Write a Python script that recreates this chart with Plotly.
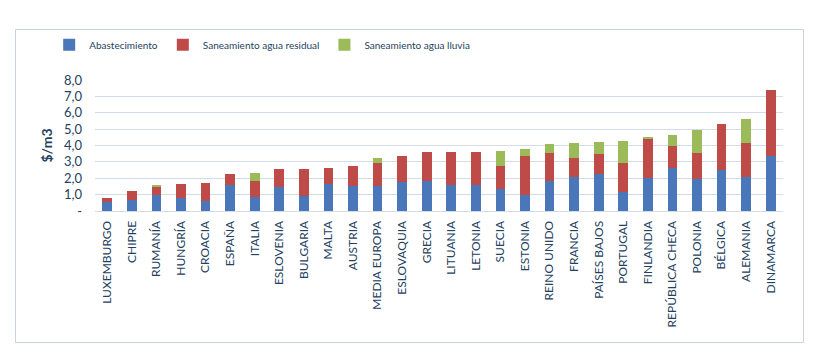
import plotly.graph_objects as go

countries = ["LUXEMBURGO", "CHIPRE", "RUMANÍA", "HUNGRÍA", "CROACIA", "ESPAÑA", "ITALIA",
             "ESLOVENIA", "BULGARIA", "MALTA", "AUSTRIA", "MEDIA EUROPA", "ESLOVAQUIA",
             "GRECIA", "LITUANIA", "LETONIA", "SUECIA", "ESTONIA", "REINO UNIDO", "FRANCIA",
             "PAÍSES BAJOS", "PORTUGAL", "FINLANDIA", "REPÚBLICA CHECA", "POLONIA",
             "BÉLGICA", "ALEMANIA", "DINAMARCA"]

abastecimiento = [0.57, 0.67, 1.00, 0.80, 0.61, 1.59, 0.88, 1.47, 0.94, 1.65, 1.53, 1.53,
                  1.78, 1.84, 1.59, 1.59, 1.35, 0.98, 1.84, 2.08, 2.27, 1.16, 2.02, 2.63,
                  1.96, 2.51, 2.08, 3.37]
residual = [0.24, 0.55, 0.45, 0.85, 1.10, 0.68, 0.96, 1.10, 1.63, 0.98, 1.23, 1.41,
            1.59, 1.77, 2.02, 2.02, 1.41, 2.39, 1.71, 1.17, 1.22, 1.78, 2.39, 1.35,
            1.59, 2.82, 2.08, 4.04]
lluvia = [0, 0, 0.14, 0, 0, 0, 0.49, 0, 0, 0, 0, 0.31,
          0, 0, 0, 0, 0.91, 0.43, 0.55, 0.91, 0.73, 1.35, 0.12, 0.67,
          1.41, 0, 1.47, 0]

tick_vals = [0, 1, 2, 3, 4, 5, 6, 7, 8]
tick_text = ["-", "1,0", "2,0", "3,0", "4,0", "5,0", "6,0", "7,0", "8,0"]

TXT = "#243F60"
FONT = "Lato"

fig = go.Figure()
fig.add_trace(go.Bar(x=countries, y=abastecimiento, name="Abastecimiento",
                     marker=dict(color="#4A76BA", line=dict(width=0))))
fig.add_trace(go.Bar(x=countries, y=residual, name="Saneamiento agua residual",
                     marker=dict(color="#BE4B48", line=dict(width=0))))
fig.add_trace(go.Bar(x=countries, y=lluvia, name="Saneamiento agua lluvia",
                     marker=dict(color="#9BBB59", line=dict(width=0))))

fig.update_layout(
    barmode="stack",
    bargap=0.6,
    width=807, height=349,
    margin=dict(l=87, r=32, t=72, b=146, autoexpand=False),
    paper_bgcolor="white", plot_bgcolor="white",
    font=dict(family=FONT, color=TXT, size=12),
    showlegend=True,
    legend=dict(orientation="h", x=0.243, xanchor="center", y=1.27, yanchor="middle",
                font=dict(size=10, color=TXT, family=FONT), itemwidth=30,
                traceorder="normal", itemsizing="constant", bgcolor="rgba(0,0,0,0)"),
    xaxis=dict(tickangle=-90, tickfont=dict(size=12, color=TXT), showgrid=False,
               showline=True, linecolor="#D0DCEA", ticks="", ticklen=0,
               ticklabelstandoff=4),
    yaxis=dict(range=[0, 8], tickvals=tick_vals, ticktext=tick_text,
               tickfont=dict(size=13, color=TXT), gridcolor="#D0DCEA", gridwidth=1,
               zeroline=False, showline=False, ticks="", ticklabelstandoff=12,
               title=dict(text="<b>$/m3</b>", font=dict(size=14, color=TXT), standoff=8)),
    shapes=[dict(type="rect", xref="paper", yref="paper",
                 x0=-0.11555, x1=1.02980, y0=-1.00382, y1=1.3855,
                 line=dict(color="#C5D3E4", width=1), fillcolor="rgba(0,0,0,0)",
                 layer="above")],
)

fig.write_html("out.html")
